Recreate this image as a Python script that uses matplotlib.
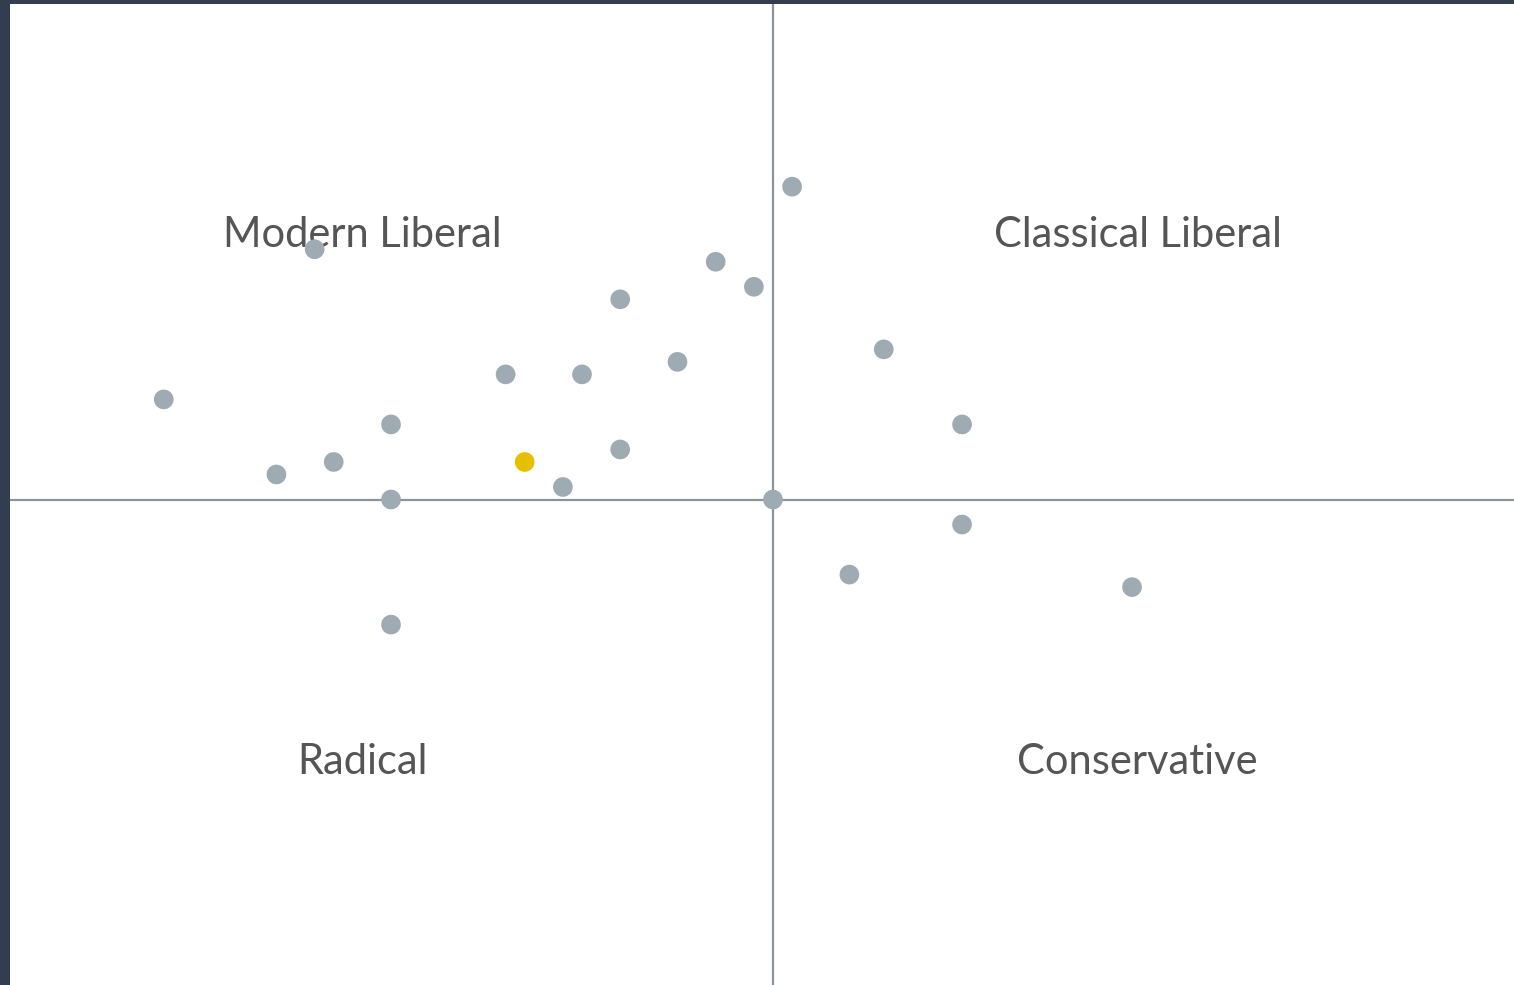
import matplotlib
matplotlib.use("Agg")
import matplotlib.pyplot as plt

# scores on the two axes (economic, personal)
econ = [-31.9, -26, -23, -20, -20, -20, -24, -14, -11, -10, -8, -8, -5, -3, -1, 0, 1, 4, 5.8, 9.9, 9.9, 18.8]
personal = [8, 2, 3, 6, 0, -10, 20, 10, 1, 10, 16, 4, 11, 19, 17, 0, 25, -6, 12, 6, -2, -7]
you_econ = [-13]
you_personal = [3]

quadrants = ["Modern Liberal", "Classical Liberal", "Radical", "Conservative"]
quad_x = [-21.5, 19.1, -21.5, 19.1]
quad_y = [21.1, 21.1, -21.0, -21.0]

fig = plt.figure(figsize=(15.14, 9.85), dpi=100)
fig.patch.set_facecolor("#333d50")

W, H = 1514, 985
ax = fig.add_axes([10 / W, 0, (W - 10) / W, (H - 4) / H])
ax.set_facecolor("white")
ax.set_xlim(-39.95, 38.8)
ax.set_ylim(-38.8, 39.6)

ax.axhline(0, color="#8a949a", lw=1.6, zorder=1)
ax.axvline(0, color="#8a949a", lw=1.6, zorder=1)

for name, x, y in zip(quadrants, quad_x, quad_y):
    ax.text(x, y, name, ha="center", va="center", fontsize=30,
            color="#555555", family="Lato", zorder=2)

ax.scatter(econ, personal, s=200, color="#9eabb2", edgecolors="none", zorder=3)
ax.scatter(you_econ, you_personal, s=200, color="#e8bf00", edgecolors="none", zorder=4)

ax.set_xticks([])
ax.set_yticks([])
for sp in ax.spines.values():
    sp.set_visible(False)

fig.savefig("out.png", dpi=100, facecolor=fig.get_facecolor())
